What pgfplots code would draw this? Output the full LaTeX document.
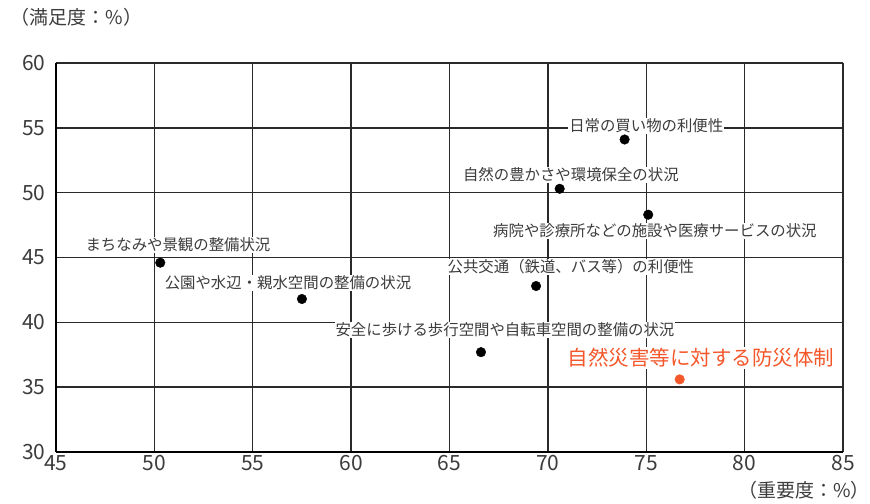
\documentclass[border=0pt]{standalone}
\usepackage{fontspec}
\setmainfont{Noto Sans CJK JP}
\usepackage{pgfplots}
\pgfplotsset{compat=1.18}

\definecolor{txtgray}{HTML}{3C3C3C}
\definecolor{gridgray}{HTML}{2A2A2A}
\definecolor{accent}{HTML}{F4582A}

\begin{document}
\begin{tikzpicture}
  \begin{axis}[
    scale only axis,
    width=787bp, height=389bp,
    xmin=45, xmax=85, ymin=30, ymax=60,
    xtick={45,50,...,85}, ytick={30,35,...,60},
    axis lines=left,
    axis line style={-, line width=2.2pt, black},
    grid=major,
    major grid style={gridgray, line width=1.4pt},
    major tick length=0pt,
    /pgf/number format/assume math mode=true,
    ticklabel style={font=\fontsize{21bp}{23bp}\selectfont, text=txtgray},
    xticklabel style={yshift=0bp},
    yticklabel style={xshift=-7bp},
    clip=false,
  ]
    % general items
    \addplot[only marks, mark=*, mark size=4.8bp, black] coordinates {
      (73.9,54.1) (70.6,50.3) (75.1,48.3) (69.4,42.8)
      (50.3,44.6) (57.5,41.8) (66.6,37.7)
    };
    % highlighted item
    \addplot[only marks, mark=*, mark size=4.8bp, accent, mark options={fill=accent}] coordinates {
      (76.7,35.6)
    };

    \tikzset{lbl/.style={fill=white, inner sep=1bp, text=txtgray,
      font=\fontsize{15.4bp}{17bp}\selectfont}}
    \node[lbl] at (axis cs:75.0,55.14) {日常の買い物の利便性};
    \node[lbl] at (axis cs:71.17,51.36) {自然の豊かさや環境保全の状況};
    \node[lbl] at (axis cs:75.44,47.05) {病院や診療所などの施設や医療サービスの状況};
    \node[lbl] at (axis cs:71.17,44.27) {公共交通（鉄道、バス等）の利便性};
    \node[lbl] at (axis cs:51.2,45.97) {まちなみや景観の整備状況};
    \node[lbl] at (axis cs:56.79,43.04) {公園や水辺・親水空間の整備の状況};
    \node[lbl] at (axis cs:67.82,39.41) {安全に歩ける歩行空間や自転車空間の整備の状況};
    \node[lbl, text=accent, font=\fontsize{20.5bp}{22bp}\selectfont] at (axis cs:77.77,37.25) {自然災害等に対する防災体制};

    \node[overlay, anchor=west, text=txtgray, font=\fontsize{19bp}{21bp}\selectfont] at (rel axis cs:-0.062,1.118) {（満足度：\%）};
    \node[overlay, anchor=east, inner sep=0pt, text=txtgray, font=\fontsize{19bp}{21bp}\selectfont] at (rel axis cs:1.0340,-0.0977) {（重要度：\%）};
  \end{axis}
  \path (current axis.south west) ++(-56bp,-52bp) rectangle ++(870bp,504bp);
\end{tikzpicture}
\end{document}
